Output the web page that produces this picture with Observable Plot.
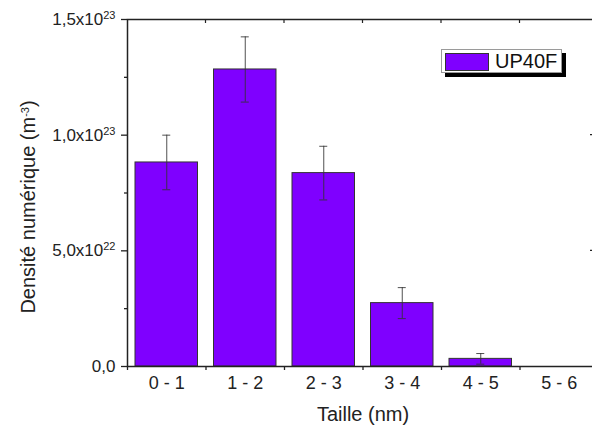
<!DOCTYPE html>
<html>
<head>
<meta charset="utf-8">
<script src="https://cdn.jsdelivr.net/npm/d3@7"></script>
<script src="https://cdn.jsdelivr.net/npm/@observablehq/plot@0.6"></script>
<style>
  html, body { margin: 0; padding: 0; background: white; }
  #wrap { position: relative; width: 592px; height: 428px; overflow: hidden; font-family: "Liberation Sans", Arial, sans-serif; }
  #legend { position: absolute; left: 441px; top: 49px; width: 119px; height: 22px; background: white;
            border: 1px solid #9a9a9a; box-shadow: 4px 4px 0 #000; }
  #legend .sw { position: absolute; left: 3px; top: 3px; width: 42px; height: 16px; background: #7f00ff; border: 1px solid #333; }
  #legend .lb { position: absolute; left: 53px; top: -1px; font-size: 20px; line-height: 24px; color: #111; }
</style>
</head>
<body>
<div id="wrap">
  <div id="chart"></div>
  <div id="legend"><div class="sw"></div><div class="lb">UP40F</div></div>
</div>
<script>
// ---- data ----
const categories = ["0 - 1", "1 - 2", "2 - 3", "3 - 4", "4 - 5", "5 - 6"];
const binStart = [0, 1, 2, 3, 4, 5];
const binEnd = [1, 2, 3, 4, 5, 6];
const density = [0.882e23, 1.284e23, 0.836e23, 0.274e23, 0.033e23, 0];
const errors = [0.118e23, 0.141e23, 0.116e23, 0.067e23, 0.023e23, 0];
const yMajorTicks = [0, 5e22, 1e23, 1.5e23];
const yTickLabels = ["0,0", "5,0x10^22", "1,0x10^23", "1,5x10^23"];
const yMinorTicks = [2.5e22, 7.5e22, 1.25e23];
const xTitle = "Taille (nm)";
const yTitle = "Densité numérique (m^-3)";

const rows = categories.map((c, i) => ({
  cat: c, x1: binStart[i], x2: binEnd[i], mid: (binStart[i] + binEnd[i]) / 2,
  v: density[i], lo: density[i] - errors[i], hi: density[i] + errors[i], e: errors[i]
}));
const errRows = rows.filter(d => d.e > 0);
const edges = [...binStart, binEnd[binEnd.length - 1]];
const mids = rows.map(d => d.mid);

const ink = "#222";

const innerTicks = (index, scales, values, dim) => {
  const g = d3.create("svg:g").attr("stroke", ink).attr("stroke-width", 1.2);
  const top = dim.marginTop, right = dim.width - dim.marginRight;
  for (const b of edges.slice(1, -1)) {
    g.append("line").attr("x1", scales.x(b)).attr("x2", scales.x(b)).attr("y1", top).attr("y2", top + 4);
  }
  for (const t of yMajorTicks.slice(1, -1)) {
    g.append("line").attr("x1", right).attr("x2", right - 8).attr("y1", scales.y(t)).attr("y2", scales.y(t));
  }
  return g.node();
};

const chart = Plot.plot({
  width: 592,
  height: 428,
  marginLeft: 127,
  marginRight: -6,
  marginTop: 19,
  marginBottom: 62,
  style: { fontFamily: "'Liberation Sans', Arial, sans-serif", fontSize: "17px", color: ink, background: "white" },
  x: { domain: [0, 6], label: null, axis: null },
  y: { domain: [0, 1.5e23], label: null, axis: null },
  marks: [
    Plot.rectY(rows, { x1: "x1", x2: "x2", y: "v", insetLeft: 8, insetRight: 8, fill: "#7f00ff", stroke: "#333", strokeWidth: 1 }),
    Plot.ruleX(errRows, { x: "mid", y1: "lo", y2: "hi", stroke: "#333", strokeOpacity: 0.85, strokeWidth: 1 }),
    Plot.ruleY(errRows, { y: "hi", x1: "mid", x2: "mid", insetLeft: -4, insetRight: -4, stroke: "#333", strokeOpacity: 0.85, strokeWidth: 1 }),
    Plot.ruleY(errRows, { y: "lo", x1: "mid", x2: "mid", insetLeft: -4, insetRight: -4, stroke: "#333", strokeOpacity: 0.85, strokeWidth: 1 }),
    Plot.frame({ stroke: ink, strokeWidth: 1.5 }),
    Plot.axisY({ ticks: yMajorTicks, tickSize: 6, tickPadding: 6, strokeWidth: 1.3, fontSize: 17, label: null,
                 tickFormat: v => yTickLabels[yMajorTicks.indexOf(v)] }),
    Plot.axisY({ ticks: yMinorTicks, tickSize: 3, strokeWidth: 1.3, label: null, tickFormat: () => "" }),
    Plot.axisX({ ticks: edges, tickSize: 4, strokeWidth: 1.3, label: null, tickFormat: () => "" }),
    Plot.axisX({ ticks: mids, tickSize: 0, tickPadding: 10, fontSize: 18, label: null,
                 tickFormat: v => categories[mids.indexOf(v)] }),
    innerTicks,
    Plot.text([xTitle], { frameAnchor: "bottom", dy: 54, lineAnchor: "bottom", fontSize: 20, fill: ink }),
    Plot.text([yTitle], { frameAnchor: "left", rotate: -90, dx: -93, dy: 14, lineAnchor: "bottom", textAnchor: "middle", fontSize: 20, fill: ink })
  ]
});

// superscripts: "a^b" -> a + raised b
d3.select(chart).selectAll("text").each(function () {
  const el = this;
  const s = el.textContent;
  if (!s.includes("^")) return;
  const m = s.match(/^(.*?)\^([-0-9]+)(.*)$/);
  if (!m) return;
  const fs = parseFloat(getComputedStyle(el).fontSize) || 17;
  const supSize = Math.round(fs * 0.64);
  const raise = Math.round(fs * 0.36);
  el.textContent = "";
  const sel = d3.select(el);
  sel.append("tspan").text(m[1]);
  sel.append("tspan").attr("font-size", supSize).attr("dy", -raise).text(m[2]);
  if (m[3]) sel.append("tspan").attr("dy", raise).text(m[3]);
});

document.getElementById("chart").appendChild(chart);
</script>
</body>
</html>
